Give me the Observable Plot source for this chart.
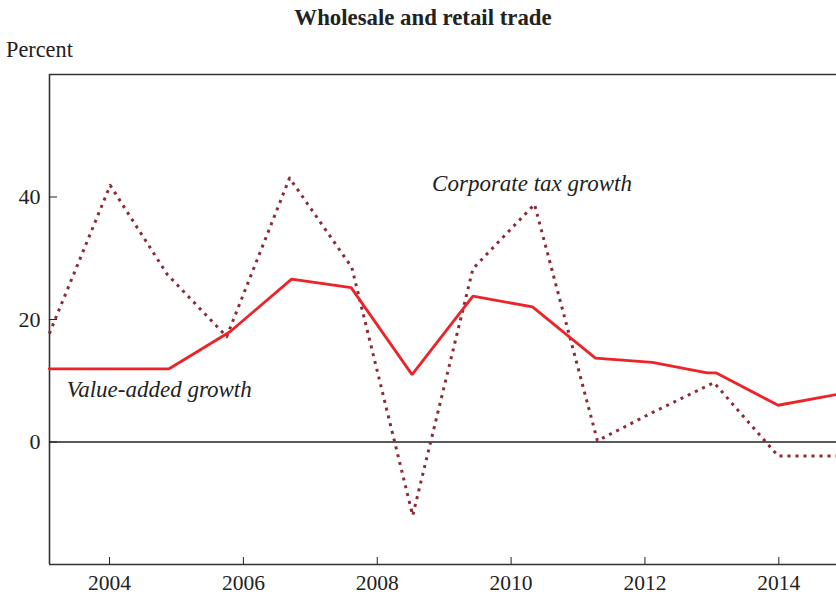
<!DOCTYPE html>
<html>
<head>
<meta charset="utf-8">
<script src="https://cdn.jsdelivr.net/npm/d3@7"></script>
<script src="https://cdn.jsdelivr.net/npm/@observablehq/plot@0.6"></script>
<style>
  html, body { margin: 0; padding: 0; background: #fff; }
  body { width: 836px; height: 597px; overflow: hidden; font-family: "Liberation Serif", "DejaVu Serif", serif; color: #222; }
  .title { box-sizing: border-box; height: 36px; padding-top: 2px; line-height: 32px; font-size: 22.8px; font-weight: bold; text-align: center; padding-left: 10px; }
  .unit { height: 28px; line-height: 28px; font-size: 22.3px; padding-left: 6px; }
  svg { display: block; }
</style>
</head>
<body>
<div class="title">Wholesale and retail trade</div>
<div class="unit">Percent</div>
<div id="chart"></div>
<script>
// Value-added growth (solid red)
const valueYears = [2003.10, 2004.89, 2005.80, 2006.72, 2007.61, 2008.52, 2009.43, 2010.32, 2011.26, 2012.11, 2012.93, 2013.06, 2013.99, 2014.86];
const valueAdded = [11.95, 11.95, 18.0, 26.6, 25.2, 11.0, 23.8, 22.05, 13.7, 13.0, 11.3, 11.3, 6.0, 7.75];

// Corporate tax growth (dotted)
const taxYears = [2003.10, 2004.01, 2004.86, 2005.75, 2006.69, 2007.62, 2008.53, 2009.43, 2010.35, 2011.29, 2012.11, 2013.03, 2013.99, 2014.86];
const taxGrowth = [17.7, 41.9, 27.4, 17.2, 43.1, 28.5, -12.0, 28.3, 38.8, 0.2, 4.8, 9.7, -2.3, -2.3];

// Axes
const xDomain = [2003.103, 2014.862];
const yDomain = [-20, 60];
const xTicks = [2004, 2006, 2008, 2010, 2012, 2014];
const yTicks = [0, 20, 40];

// Labels
const labelText = ["Value-added growth", "Corporate tax growth"];
const labelX = [2003.36, 2008.82];
const labelY = [7.3, 41.0];

const valueData = valueYears.map((x, i) => ({x, y: valueAdded[i]}));
const taxData = taxYears.map((x, i) => ({x, y: taxGrowth[i]}));
const labelData = labelText.map((t, i) => ({t, x: labelX[i], y: labelY[i]}));

const chart = Plot.plot({
  width: 836,
  height: 533,
  marginTop: 10,
  marginBottom: 33,
  marginLeft: 49,
  marginRight: 0,
  x: {domain: xDomain},
  y: {domain: yDomain},
  style: {fontFamily: "Liberation Serif", fontSize: "22px", color: "#222", background: "#fff", overflow: "visible"},
  marks: [
    Plot.ruleY(yDomain, {stroke: "#333", strokeWidth: 1.6}),
    Plot.ruleX([xDomain[0]], {stroke: "#333", strokeWidth: 1.6}),
    Plot.ruleY([0], {stroke: "#222", strokeWidth: 1.5}),
    Plot.axisX({ticks: xTicks, tickSize: -7, tickPadding: 17, tickFormat: d => String(d), label: null, fontSize: 21.5}),
    Plot.axisY({ticks: yTicks, tickSize: -8, tickPadding: 17, tickFormat: d => String(d), label: null, fontSize: 22}),
    Plot.line(taxData, {x: "x", y: "y", stroke: "#8b2b36", strokeWidth: 3, strokeDasharray: "3,5", strokeLinecap: "butt"}),
    Plot.line(valueData, {x: "x", y: "y", stroke: "#ec2327", strokeWidth: 2.8, strokeLinejoin: "miter"}),
    Plot.text(labelData, {x: "x", y: "y", text: "t", textAnchor: "start", lineAnchor: "bottom", fontSize: 23, fontStyle: "italic", fill: "#222"})
  ]
});
document.getElementById("chart").appendChild(chart);
</script>
</body>
</html>
